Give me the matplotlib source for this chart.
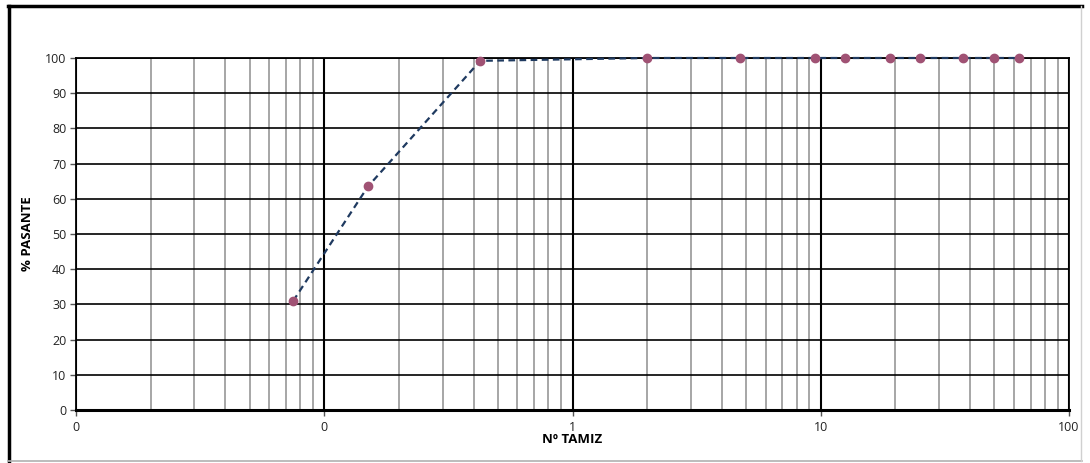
import numpy as np
import matplotlib
matplotlib.use("Agg")
import matplotlib.pyplot as plt
from matplotlib.ticker import FixedLocator, FixedFormatter, LogLocator, NullFormatter
from matplotlib.lines import Line2D

# sieve opening (mm) and percent passing
abertura = [0.075, 0.15, 0.425, 2.0, 4.75, 9.5, 12.5, 19.0, 25.0, 37.5, 50.0, 63.0]
pasante = [31.0, 63.5, 99.2, 100.0, 100.0, 100.0, 100.0, 100.0, 100.0, 100.0, 100.0, 100.0]

x_ticks = [0.01, 0.1, 1, 10, 100]
x_tick_labels = ["0", "0", "1", "10", "100"]
y_ticks = list(range(0, 101, 10))

plt.rcParams["font.family"] = ["Open Sans", "DejaVu Sans"]

fig = plt.figure(figsize=(10.9, 4.63), dpi=100)
ax = fig.add_axes([76 / 1090, 1 - 410 / 463, (1069 - 76) / 1090, (410 - 58) / 463])

ax.set_xscale("log")
ax.set_xlim(0.01, 100)
ax.set_ylim(0, 100)

# grid: gray minor verticals, black decades and horizontals
ax.xaxis.set_minor_locator(LogLocator(base=10, subs=np.arange(2, 10)))
ax.xaxis.set_minor_formatter(NullFormatter())
ax.grid(True, which="minor", axis="x", color="#a6a6a6", linewidth=1.4)
ax.grid(True, which="major", axis="x", color="black", linewidth=1.5)
ax.grid(True, which="major", axis="y", color="black", linewidth=1.2)
ax.tick_params(which="minor", length=0)

ax.xaxis.set_major_locator(FixedLocator(x_ticks))
ax.xaxis.set_major_formatter(FixedFormatter(x_tick_labels))
ax.set_yticks(y_ticks)
ax.tick_params(axis="both", which="major", labelsize=9, length=4, width=1,
               color="#555555", labelcolor="#222222", pad=3)
ax.tick_params(axis="x", pad=4)

for side in ["left", "right", "top"]:
    ax.spines[side].set_linewidth(1.3)
ax.spines["bottom"].set_linewidth(2.2)

ax.plot(abertura, pasante, linestyle=(0, (3, 2)), color="#1f3a60", linewidth=1.6,
        marker="o", markersize=6, markerfacecolor="#a05274",
        markeredgecolor="#a05274", clip_on=False, zorder=5)

ax.set_ylabel("% PASANTE", fontsize=9.5, fontweight="bold", labelpad=8)
ax.set_xlabel("Nº TAMIZ", fontsize=9.5, fontweight="bold", labelpad=-1)

# chart area frame
fig.add_artist(Line2D([8 / 1090, 1082 / 1090], [1 - 6 / 463, 1 - 6 / 463],
                      color="black", linewidth=2.5, transform=fig.transFigure))
fig.add_artist(Line2D([9 / 1090, 9 / 1090], [1 - 6 / 463, 1 - 461 / 463],
                      color="black", linewidth=2.5, transform=fig.transFigure))
fig.add_artist(Line2D([8 / 1090, 1082 / 1090], [1 - 461 / 463, 1 - 461 / 463],
                      color="#b0b0b0", linewidth=1.2, transform=fig.transFigure))
fig.add_artist(Line2D([1081 / 1090, 1081 / 1090], [1 - 6 / 463, 1 - 461 / 463],
                      color="#d0d0d0", linewidth=1.0, transform=fig.transFigure))

fig.savefig("out.png", dpi=100)
